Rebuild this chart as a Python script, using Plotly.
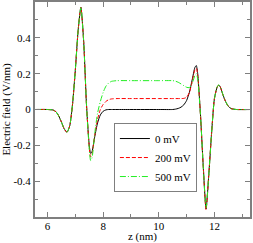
import plotly.graph_objects as go

# ---- data ----
z_nm = [5.55, 6.0, 6.2, 6.3, 6.4, 6.5, 6.6, 6.7, 6.8, 6.9,
        7.0, 7.1, 7.2, 7.3, 7.4, 7.5, 7.55, 7.6, 7.7, 7.8,
        7.9, 8.0, 8.1, 8.2, 8.3, 8.5, 9.0, 10.0, 10.5, 10.6,
        10.7, 10.8, 10.9, 11.0, 11.1, 11.2, 11.3, 11.35, 11.4, 11.5,
        11.6, 11.7, 11.8, 11.9, 12.0, 12.1, 12.15, 12.2, 12.3, 12.4,
        12.5, 12.6, 12.8, 13.3]

field_0mV = [0.0, 0.0, -0.003, -0.012, -0.035, -0.07, -0.108, -0.127, -0.09, 0.03,
             0.22, 0.44, 0.57, 0.38, 0.03, -0.2, -0.245, -0.235, -0.15, -0.075,
             -0.03, -0.01, -0.002, 0.0, 0.0, 0.0, 0.0, 0.0, 0.0, 0.002,
             0.006, 0.013, 0.026, 0.05, 0.095, 0.165, 0.235, 0.245, 0.2, -0.03,
             -0.32, -0.555, -0.36, -0.13, 0.06, 0.125, 0.135, 0.13, 0.085, 0.045,
             0.018, 0.005, 0.0, 0.0]

field_200mV = [0.0, 0.0, -0.003, -0.012, -0.035, -0.07, -0.108, -0.127, -0.09, 0.03,
               0.22, 0.44, 0.57, 0.38, 0.03, -0.21, -0.265, -0.25, -0.14, -0.055,
               0.0, 0.028, 0.045, 0.055, 0.059, 0.061, 0.061, 0.061, 0.061, 0.061,
               0.061, 0.061, 0.062, 0.068, 0.095, 0.155, 0.222, 0.23, 0.19, -0.03,
               -0.32, -0.56, -0.36, -0.13, 0.06, 0.125, 0.135, 0.13, 0.085, 0.045,
               0.018, 0.005, 0.0, 0.0]

field_500mV = [0.0, 0.0, -0.003, -0.012, -0.035, -0.07, -0.108, -0.127, -0.09, 0.03,
               0.22, 0.44, 0.57, 0.38, 0.03, -0.22, -0.285, -0.27, -0.13, -0.02,
               0.045, 0.095, 0.13, 0.148, 0.157, 0.161, 0.161, 0.161, 0.161, 0.158,
               0.152, 0.143, 0.133, 0.124, 0.122, 0.145, 0.19, 0.2, 0.17, -0.03,
               -0.32, -0.55, -0.36, -0.13, 0.06, 0.127, 0.137, 0.132, 0.087, 0.046,
               0.018, 0.005, 0.0, 0.0]

series_names = ["0 mV", "200 mV", "500 mV"]

x_tickvals = [6, 8, 10, 12]
x_ticktext = ["6", "8", "10", "12"]
y_tickvals = [-0.4, -0.2, 0, 0.2, 0.4]
y_ticktext = ["-0.4", "-0.2", "0", "0.2", "0.4"]

# ---- figure ----
fig = go.Figure()
styles = [
    dict(color="#000000", dash="solid"),
    dict(color="#ff0000", dash="4px,2px"),
    dict(color="#22ee22", dash="6px,2px,1px,2px"),
]
for name, ys, st in zip(series_names, [field_0mV, field_200mV, field_500mV], styles):
    fig.add_trace(go.Scatter(
        x=z_nm, y=ys, mode="lines", name=name,
        line=dict(color=st["color"], dash=st["dash"], width=1, shape="spline", smoothing=0.6),
    ))

axis_gray = "#7f7f7f"
serif = "Liberation Serif"
common_axis = dict(
    showgrid=False, zeroline=False, showline=True, linecolor=axis_gray, linewidth=2,
    mirror="allticks", ticks="inside", ticklen=5, tickwidth=1, tickcolor=axis_gray,
    tickfont=dict(family=serif, size=11, color="black"), automargin=False,
)

fig.update_xaxes(
    **common_axis,
    range=[5.55, 13.28], tickvals=x_tickvals, ticktext=x_ticktext,
    minor=dict(ticks="inside", ticklen=3, dtick=1, tick0=0, tickcolor=axis_gray, tickwidth=1),
    title=dict(text="z (nm)", standoff=0, font=dict(family=serif, size=11, color="black")),
    ticklabelstandoff=-2,
)
fig.update_yaxes(
    **common_axis,
    range=[-0.6, 0.6], tickvals=y_tickvals, ticktext=y_ticktext,
    minor=dict(ticks="inside", ticklen=3, dtick=0.1, tick0=0, tickcolor=axis_gray, tickwidth=1),
    title=dict(text="Electric field (V/nm)", standoff=2,
               font=dict(family=serif, size=11, color="black")),
    ticklabelstandoff=0,
)

fig.update_layout(
    width=253, height=243,
    margin=dict(l=35, r=3, t=2, b=26),
    plot_bgcolor="white", paper_bgcolor="white",
    font=dict(family=serif, size=11, color="black"),
    legend=dict(
        x=0.367, y=0.437, xanchor="left", yanchor="top",
        bgcolor="white", bordercolor=axis_gray, borderwidth=1,
        font=dict(family=serif, size=11, color="black"),
        tracegroupgap=0, itemwidth=30,
    ),
    showlegend=True,
)

fig.write_html(
    "out.html",
    config={"displayModeBar": False},
    post_script="document.body.style.margin='0';document.body.style.padding='0';",
)
